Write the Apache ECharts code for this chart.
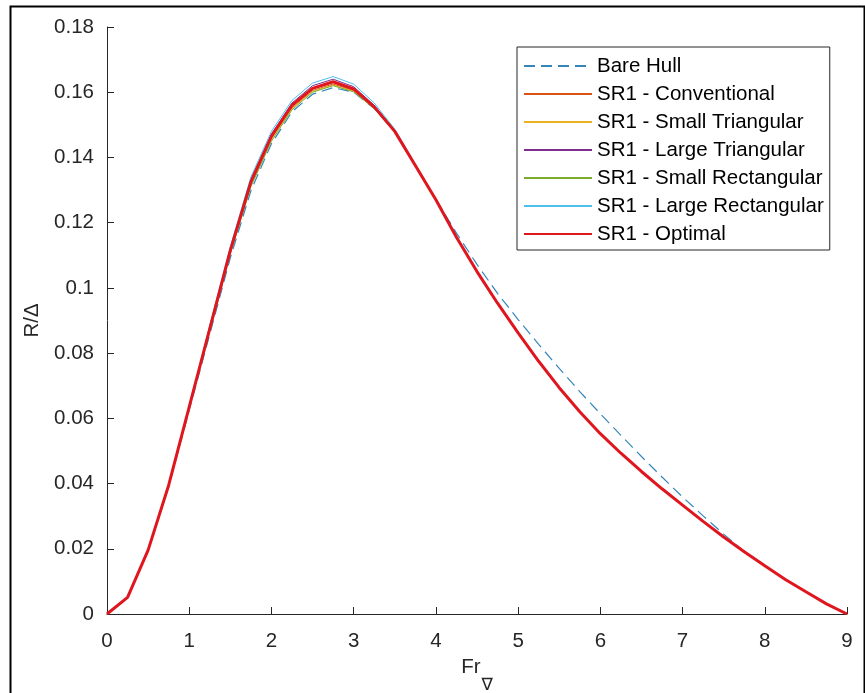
<!DOCTYPE html>
<html><head><meta charset="utf-8">
<script src="https://cdn.jsdelivr.net/npm/echarts@6/dist/echarts.min.js"></script>
<style>html,body{margin:0;padding:0;background:#fff}#c{width:865px;height:693px}</style>
</head><body><div id="c"></div>
<script>
// Froude number (volumetric) values
const FR = [0,0.25,0.5,0.75,1,1.25,1.5,1.75,2,2.25,2.5,2.75,3,3.25,3.5,3.75,4,4.25,4.5,4.75,5,5.25,5.5,5.75,6,6.25,6.5,6.75,7,7.25,7.5,7.75,8,8.25,8.5,8.75,9];

const bareHull = [0,0.0050,0.0194,0.0390,0.0625,0.0858,0.1092,0.1298,0.1442,0.1540,0.1594,0.1614,0.1600,0.1550,0.1478,0.1378,0.1272,0.1168,0.1072,0.0983,0.0903,0.0827,0.0753,0.0682,0.0614,0.0548,0.0483,0.0420,0.0359,0.0301,0.0245,0.0192];

const conventional = [0,0.0051,0.0196,0.0395,0.0635,0.0872,0.1110,0.1318,0.1458,0.1552,0.1605,0.1625,0.1605,0.1552,0.1478,0.1374,0.1270,0.1155,0.1050,0.0953,0.0862,0.0775,0.0694,0.0620,0.0553,0.0493,0.0437,0.0384,0.0334,0.0284,0.0236,0.0191,0.0148,0.0106,0.0068,0.0031,0];

const smallTriangular = [0,0.0051,0.0196,0.0395,0.0635,0.0870,0.1108,0.1315,0.1455,0.1550,0.1603,0.1622,0.1603,0.1551,0.1478,0.1374,0.1270,0.1155,0.1050,0.0953,0.0862,0.0775,0.0694,0.0620,0.0553,0.0493,0.0437,0.0384,0.0334,0.0284,0.0236,0.0191,0.0148,0.0106,0.0068,0.0031,0];

const largeTriangular = [0,0.0051,0.0196,0.0395,0.0635,0.0880,0.1120,0.1332,0.1472,0.1567,0.1620,0.1640,0.1617,0.1560,0.1483,0.1377,0.1270,0.1155,0.1050,0.0953,0.0862,0.0775,0.0694,0.0620,0.0553,0.0493,0.0437,0.0384,0.0334,0.0284,0.0236,0.0191,0.0148,0.0106,0.0068,0.0031,0];

const smallRectangular = [0,0.0051,0.0196,0.0395,0.0635,0.0866,0.1104,0.1310,0.1450,0.1546,0.1600,0.1620,0.1601,0.1550,0.1477,0.1374,0.1270,0.1155,0.1050,0.0953,0.0862,0.0775,0.0694,0.0620,0.0553,0.0493,0.0437,0.0384,0.0334,0.0284,0.0236,0.0191,0.0148,0.0106,0.0068,0.0031,0];

const largeRectangular = [0,0.0051,0.0196,0.0395,0.0635,0.0885,0.1127,0.1340,0.1480,0.1575,0.1628,0.1648,0.1625,0.1567,0.1487,0.1380,0.1270,0.1155,0.1050,0.0953,0.0862,0.0775,0.0694,0.0620,0.0553,0.0493,0.0437,0.0384,0.0334,0.0284,0.0236,0.0191,0.0148,0.0106,0.0068,0.0031,0];

const optimal = [0,0.0051,0.0196,0.0395,0.0635,0.0875,0.1115,0.1325,0.1465,0.1560,0.1612,0.1632,0.1610,0.1555,0.1480,0.1375,0.1270,0.1155,0.1050,0.0953,0.0862,0.0775,0.0694,0.0620,0.0553,0.0493,0.0437,0.0384,0.0334,0.0284,0.0236,0.0191,0.0148,0.0106,0.0068,0.0031,0];

const seriesNames = ['Bare Hull','SR1 - Conventional','SR1 - Small Triangular','SR1 - Large Triangular','SR1 - Small Rectangular','SR1 - Large Rectangular','SR1 - Optimal'];
const seriesValues = [bareHull, conventional, smallTriangular, largeTriangular, smallRectangular, largeRectangular, optimal];
const seriesColors = ['#3585ba','#d95319','#edb120','#7e2f8e','#77ac30','#4dbeee','#e0161e'];
const seriesWidths = [1.2,1,1,1,1,1,3];

const FONT = 'Liberation Sans, Arial, Helvetica, sans-serif';
const axisColor = '#262626';

const chart = echarts.init(document.getElementById('c'), null, {renderer:'canvas'});

const series = seriesNames.map((n,i)=>({
  name:n, type:'line', symbol:'none', smooth:false,
  data: seriesValues[i].map((v,j)=>[FR[j], v]),
  lineStyle:{color:seriesColors[i], width:seriesWidths[i], type: i===0 ? [11,6] : 'solid'},
  itemStyle:{color:seriesColors[i]},
  z: 2+i
}));

chart.setOption({
  animation:false,
  backgroundColor:'#ffffff',
  textStyle:{fontFamily:FONT},
  grid:{left:107, right:18, top:27, bottom:79, containLabel:false, outerBoundsMode:'none'},
  xAxis:{
    type:'value', min:0, max:9, interval:1,
    axisLine:{show:true, onZero:false, lineStyle:{color:axisColor, width:1}},
    axisTick:{show:true, inside:true, length:7, lineStyle:{color:axisColor}},
    axisLabel:{color:axisColor, fontSize:20.5, margin:17, fontFamily:FONT},
    splitLine:{show:false},
    name:'{a|Fr}{b|∇}', nameLocation:'middle', nameGap:42,
    nameTextStyle:{rich:{
      a:{fontSize:20.5, color:axisColor, fontFamily:FONT, verticalAlign:'top'},
      b:{fontSize:17, color:axisColor, fontFamily:'DejaVu Sans, sans-serif', padding:[20,0,0,1]}
    }}
  },
  yAxis:{
    type:'value', min:0, max:0.18, interval:0.02,
    axisLine:{show:true, onZero:false, lineStyle:{color:axisColor, width:1}},
    axisTick:{show:true, inside:true, length:7, lineStyle:{color:axisColor}},
    axisLabel:{color:axisColor, fontSize:20.5, margin:13, fontFamily:FONT,
      formatter:v=> v===0 ? '0' : String(parseFloat(v.toFixed(2)))},
    splitLine:{show:false},
    name:'R/Δ', nameLocation:'middle', nameRotate:90, nameGap:64,
    nameTextStyle:{color:axisColor, fontSize:20.5, fontFamily:FONT}
  },
  legend:{
    orient:'vertical', left:517, top:47,
    padding:[8,6,5,6], itemGap:6, itemWidth:68, itemHeight:14,
    borderColor:axisColor, borderWidth:1, backgroundColor:'#fff',
    itemStyle:{opacity:0},
    textStyle:{fontSize:20.5, color:'#000', fontFamily:FONT, lineHeight:22},
    data: seriesNames
  },
  graphic:[{
    type:'rect', left:8, top:4, silent:true, z:100,
    shape:{width:854, height:690},
    style:{fill:'none', stroke:'#000', lineWidth:2}
  }],
  series: series
});
</script></body></html>
